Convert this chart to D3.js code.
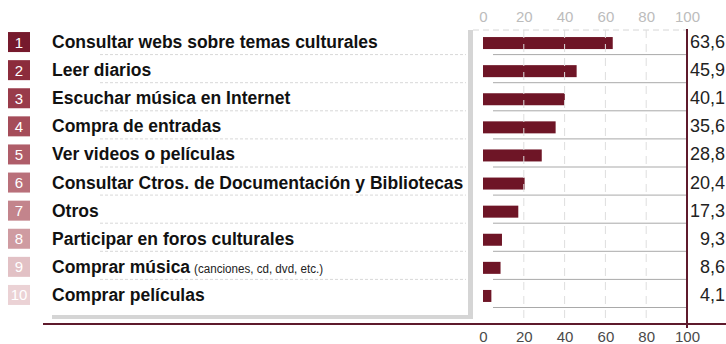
<!DOCTYPE html>
<html>
<head>
<meta charset="utf-8">
<script src="https://cdn.jsdelivr.net/npm/d3@7"></script>
<style>
  html, body { margin: 0; padding: 0; background: #fff; }
  svg { display: block; font-family: "Liberation Sans", Arial, sans-serif; }
</style>
</head>
<body>
<svg id="chart" width="726" height="344"></svg>
<script>
// Actividades culturales realizadas por Internet (%)
const categories = [
  "Consultar webs sobre temas culturales",
  "Leer diarios",
  "Escuchar música en Internet",
  "Compra de entradas",
  "Ver videos o películas",
  "Consultar Ctros. de Documentación y Bibliotecas",
  "Otros",
  "Participar en foros culturales",
  "Comprar música",
  "Comprar películas"
];
const notes = ["", "", "", "", "", "", "", "", "(canciones, cd, dvd, etc.)", ""];
const values = [63.6, 45.9, 40.1, 35.6, 28.8, 20.4, 17.3, 9.3, 8.6, 4.1];
const tickValues = [0, 20, 40, 60, 80, 100];

// rank badge shades, darkest first
const badgeColors = ["#761a2d", "#8c2c3c", "#993b4a", "#a54c59", "#af5d69", "#b9707a",
                     "#c3848c", "#cf9ba1", "#e2c1c5", "#ebd2d5"];
const barColor = "#6e1526";
const ruleColor = "#5e1a2c";
const fmt = v => d3.format(".1f")(v).replace(".", ",");

const svg = d3.select("#chart");

const x = d3.scaleLinear().domain([0, 100]).range([483, 687]);
const y = d3.scaleBand().domain(d3.range(categories.length)).range([29, 310]);
const cy = i => y(i) + y.bandwidth() / 2;

// label panel with its grey drop shadow
svg.append("rect").attr("x", 468).attr("y", 30).attr("width", 5).attr("height", 289).attr("fill", "#d5d5d5");
svg.append("rect").attr("x", 52).attr("y", 315).attr("width", 421).attr("height", 4).attr("fill", "#d5d5d5");

// dotted row separators in the label panel
svg.append("g").selectAll("line")
  .data(d3.range(categories.length - 1))
  .join("line")
  .attr("x1", 100).attr("x2", 466)
  .attr("y1", i => y(i) + y.bandwidth() - 2.5).attr("y2", i => y(i) + y.bandwidth() - 2.5)
  .attr("stroke", "#d8d8d8").attr("stroke-dasharray", "3,2");

// solid row separators in the plot area
svg.append("g").selectAll("line")
  .data(d3.range(categories.length))
  .join("line")
  .attr("x1", 493).attr("x2", x(100))
  .attr("y1", i => y(i) + y.bandwidth() - 2.5).attr("y2", i => y(i) + y.bandwidth() - 2.5)
  .attr("stroke", "#a9a9a9");

// top dashed frame line
svg.append("line")
  .attr("x1", 473).attr("x2", x(100)).attr("y1", 30).attr("y2", 30)
  .attr("stroke", "#d6d6d6").attr("stroke-dasharray", "6,4");

// bars
svg.append("g").selectAll("rect")
  .data(values)
  .join("rect")
  .attr("x", x(0))
  .attr("y", (d, i) => cy(i) - 6)
  .attr("width", d => x(d) - x(0))
  .attr("height", 12)
  .attr("fill", barColor);

// vertical dashed gridlines, drawn over the bars
svg.append("g").selectAll("line")
  .data(tickValues.filter(t => t > 0 && t < 100))
  .join("line")
  .attr("x1", d => x(d)).attr("x2", d => x(d))
  .attr("y1", 30).attr("y2", 323)
  .attr("stroke", "#dedede").attr("stroke-dasharray", "8,6");

// rank badges
const badges = svg.append("g").selectAll("g")
  .data(categories)
  .join("g")
  .attr("transform", (d, i) => `translate(8,${cy(i) - 11})`);
badges.append("rect").attr("width", 22).attr("height", 20).attr("fill", (d, i) => badgeColors[i]);
badges.append("text")
  .attr("x", 11).attr("y", 15.5)
  .attr("text-anchor", "middle")
  .attr("fill", "#fff").attr("font-size", 15)
  .text((d, i) => i + 1);

// category labels, with an optional small note after the bold text
const labelGroup = svg.append("g");
categories.forEach((name, i) => {
  const t = labelGroup.append("text")
    .attr("x", 52)
    .attr("y", cy(i) + 5)
    .attr("font-size", 17.5).attr("font-weight", "bold").attr("fill", "#111")
    .text(name);
  if (notes[i]) {
    const w = t.node().getComputedTextLength();
    labelGroup.append("text")
      .attr("x", 52 + w + 4)
      .attr("y", cy(i) + 5)
      .attr("font-size", 12).attr("fill", "#222")
      .attr("textLength", 129).attr("lengthAdjust", "spacingAndGlyphs")
      .text(notes[i]);
  }
});

// value labels
svg.append("g").selectAll("text")
  .data(values)
  .join("text")
  .attr("x", 725)
  .attr("y", (d, i) => cy(i) + 5)
  .attr("text-anchor", "end")
  .attr("font-size", 18).attr("fill", "#222")
  .text(fmt);

// maroon rules
svg.append("line")
  .attr("x1", x(100)).attr("x2", x(100)).attr("y1", 29).attr("y2", 328)
  .attr("stroke", ruleColor).attr("stroke-width", 2);
svg.append("line")
  .attr("x1", 43).attr("x2", 726).attr("y1", 324).attr("y2", 324)
  .attr("stroke", ruleColor).attr("stroke-width", 2);

// axes
const topAxis = svg.append("g")
  .attr("transform", "translate(0,22)")
  .call(d3.axisTop(x).tickValues(tickValues).tickSize(0).tickPadding(0));
topAxis.select(".domain").remove();
topAxis.selectAll("text").attr("font-size", 15).attr("fill", "#bcbcbc").attr("font-family", "Liberation Sans, Arial, sans-serif");

const bottomAxis = svg.append("g")
  .attr("transform", "translate(0,324)")
  .call(d3.axisBottom(x).tickValues(tickValues).tickSize(0).tickPadding(7));
bottomAxis.select(".domain").remove();
bottomAxis.selectAll("text").attr("font-size", 15).attr("fill", "#4a4a4a").attr("font-family", "Liberation Sans, Arial, sans-serif");
</script>
</body>
</html>
